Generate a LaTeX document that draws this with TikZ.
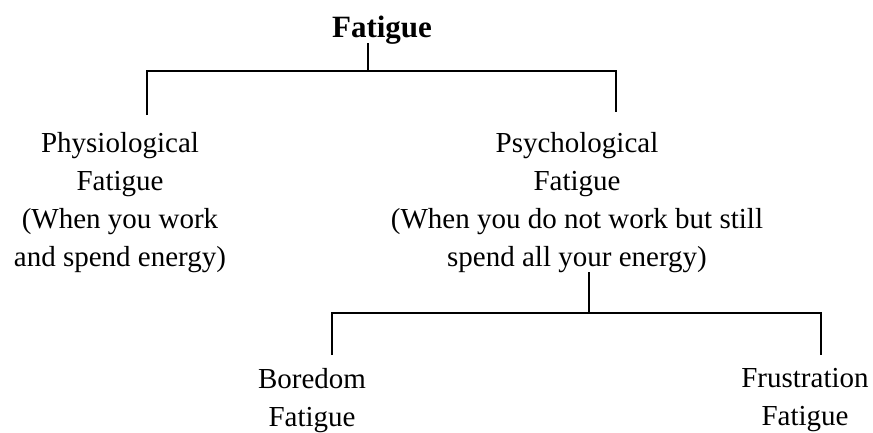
\documentclass[tikz,border=0pt]{standalone}
\usepackage{fontspec}
\setmainfont{Liberation Serif}
\usepackage{tikz}

\begin{document}
\begin{tikzpicture}[x=1pt, y=-1pt,
    label/.style={inner sep=0pt, align=center, anchor=north, font=\fontsize{29}{38}\selectfont},
    title/.style={inner sep=0pt, anchor=base, font=\fontsize{31}{38}\selectfont\bfseries},
    branch/.style={black, line width=2.2pt}]

                \useasboundingbox (0,0) rectangle (873,432);

                \node[label] (phys) at (120,132) {Physiological\\Fatigue\\(When you work\\and spend energy)};
                \node[label] (psych) at (577,132) {Psychological\\Fatigue\\(When you do not work but still\\spend all your energy)};
                \node[label] (bore) at (312,368) {Boredom\\Fatigue};
                \node[label] (frus) at (805,368) {Frustration\\Fatigue};
                \node[title] (root) at (382,37) {Fatigue};

                \coordinate (stem1) at (368,43);
                \coordinate (fork1) at (368,71);
                \coordinate (phys-end) at (147,115);
                \coordinate (psych-end) at (616,112);
                \coordinate (stem2) at (589,272);
                \coordinate (fork2) at (589,313);
                \coordinate (bore-end) at (332,355);
                \coordinate (frus-end) at (821,355);

                \draw[branch] (stem1)--(fork1);
                \draw[branch] (phys-end) |- (fork1) -| (psych-end);
                \draw[branch] (stem2)--(fork2);
                \draw[branch] (bore-end) |- (fork2) -| (frus-end);

\end{tikzpicture}
\end{document}
